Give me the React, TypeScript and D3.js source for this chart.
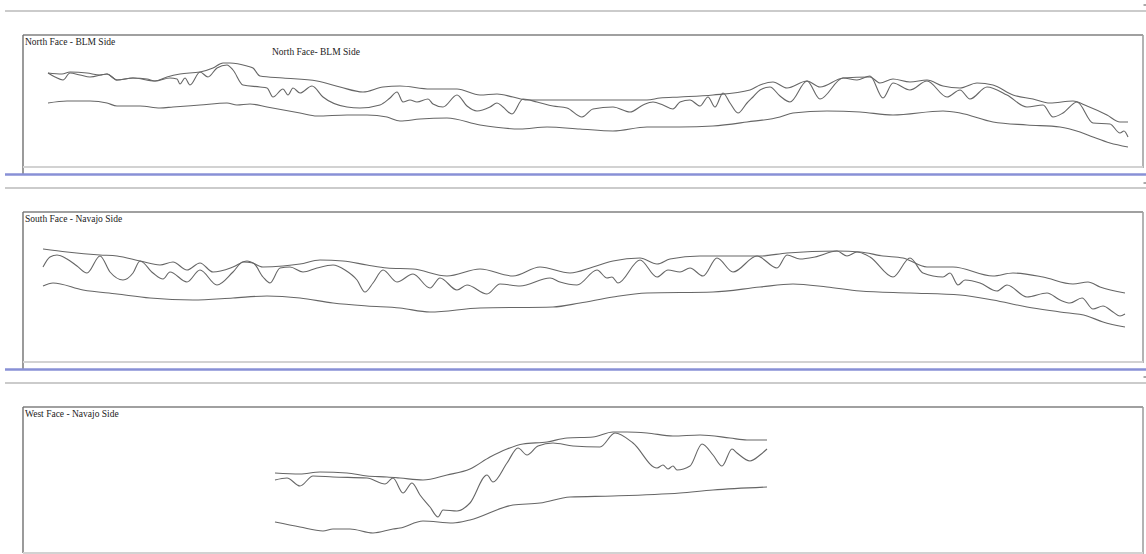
import React from "react";
import * as d3 from "d3";

type Pt = [number, number];

// Panel titles
const titles = ["North Face - BLM Side", "South Face - Navajo Side", "West Face - Navajo Side"];
const subTitle = "North Face- BLM Side";

// North Face profiles [distance, elevation]
const northTop: Pt[] = [[25,94],[39,93],[47,95],[64,94],[77,92],[84,93],[94,87],[110,89],[124,88],[132,86],[144,90],[157,93],[177,95],[190,99],[200,104],[207,104],[224,101],[230,99],[237,91],[260,89],[294,86],[317,80],[340,75],[360,80],[377,81],[407,78],[434,78],[457,72],[474,73],[490,70],[504,67],[537,67],[577,67],[624,67],[637,69],[657,70],[690,72],[727,77],[737,82],[750,85],[764,79],[784,86],[797,80],[820,89],[847,90],[857,84],[870,88],[887,85],[904,87],[920,81],[937,79],[954,84],[970,82],[990,72],[1010,68],[1027,64],[1050,66],[1064,61],[1084,52],[1097,45],[1105,45]];
const northMid: Pt[] = [[25,94],[32,90],[40,87],[47,94],[57,92],[67,90],[84,93],[94,87],[110,89],[132,86],[147,89],[154,88],[157,83],[162,89],[167,82],[177,95],[185,90],[194,99],[204,102],[210,97],[220,82],[237,80],[244,79],[250,70],[260,78],[265,72],[270,79],[277,74],[289,81],[300,70],[324,60],[337,59],[357,62],[367,69],[374,75],[380,65],[387,67],[394,65],[405,68],[410,63],[420,60],[434,72],[444,61],[454,56],[467,60],[474,64],[480,60],[489,53],[500,68],[514,65],[530,61],[544,59],[559,50],[570,58],[590,60],[607,55],[620,62],[630,65],[640,62],[650,58],[657,65],[667,67],[677,61],[685,70],[692,60],[700,74],[707,64],[715,54],[724,64],[730,70],[737,77],[747,80],[757,71],[767,65],[784,86],[797,68],[820,89],[834,87],[847,91],[860,69],[870,84],[887,77],[904,86],[924,70],[937,77],[947,68],[964,80],[984,72],[1004,60],[1020,62],[1030,50],[1040,54],[1054,65],[1070,44],[1087,43],[1097,34],[1101,36],[1105,30]];
const northBot: Pt[] = [[25,64],[44,66],[67,66],[84,64],[94,61],[117,61],[137,59],[150,60],[177,62],[204,64],[214,62],[227,63],[244,60],[277,54],[294,51],[324,52],[344,52],[364,50],[377,46],[397,48],[424,49],[457,42],[497,38],[524,40],[557,38],[590,36],[624,40],[657,40],[690,41],[724,45],[757,50],[770,54],[804,56],[837,55],[870,52],[920,56],[937,54],[970,45],[1004,42],[1037,40],[1057,35],[1070,30],[1087,24],[1105,20]];

// South Face profiles
const southTop: Pt[] = [[20,113],[44,110],[77,107],[94,106],[117,101],[137,97],[150,100],[164,92],[177,99],[190,90],[210,95],[224,101],[240,95],[260,96],[277,98],[297,102],[320,101],[344,97],[364,94],[390,93],[424,86],[457,93],[490,86],[517,95],[547,89],[570,95],[590,101],[617,104],[634,98],[647,103],[677,106],[707,106],[737,106],[764,109],[814,111],[837,110],[860,106],[880,104],[904,95],[930,95],[970,86],[990,89],[1020,85],[1050,78],[1065,80],[1077,75],[1102,69]];
const southMid: Pt[] = [[20,95],[27,105],[34,107],[44,103],[54,96],[64,89],[77,106],[87,90],[100,82],[110,89],[117,101],[130,89],[140,83],[147,90],[164,80],[177,92],[194,77],[210,90],[220,100],[230,99],[240,85],[247,79],[257,94],[267,95],[280,90],[294,94],[310,97],[322,92],[334,82],[342,70],[350,79],[360,92],[374,80],[390,88],[407,74],[417,84],[434,72],[444,77],[464,68],[477,78],[497,76],[527,84],[537,80],[554,77],[574,92],[584,84],[589,85],[595,79],[617,102],[634,85],[645,92],[657,90],[667,94],[680,86],[694,104],[710,90],[734,106],[754,94],[764,107],[777,103],[792,105],[814,111],[824,106],[834,110],[847,105],[870,85],[887,104],[900,89],[920,85],[927,89],[935,77],[942,82],[957,79],[974,71],[984,77],[1004,65],[1024,69],[1037,62],[1047,59],[1059,64],[1070,53],[1080,56],[1090,50],[1097,46],[1102,48]];
const southBot: Pt[] = [[20,76],[30,79],[60,72],[94,68],[127,64],[170,62],[210,64],[244,66],[277,64],[310,59],[344,56],[377,54],[407,50],[457,54],[530,55],[557,59],[590,65],[624,69],[690,70],[737,75],[770,78],[804,75],[837,71],[887,69],[937,67],[970,62],[1004,55],[1037,50],[1064,46],[1080,40],[1102,35]];

// West Face profiles
const westTop: Pt[] = [[252,80],[277,79],[297,81],[324,80],[344,77],[364,76],[377,75],[400,73],[424,78],[447,84],[467,96],[484,104],[500,109],[524,111],[544,115],[570,116],[590,121],[604,121],[624,120],[650,117],[677,118],[707,115],[724,113],[744,113]];
const westMid: Pt[] = [[252,73],[264,75],[277,67],[290,77],[310,76],[344,75],[362,69],[370,75],[380,60],[389,70],[397,58],[407,46],[415,36],[420,43],[434,42],[447,50],[464,78],[470,71],[484,90],[495,105],[504,98],[515,107],[530,110],[550,107],[577,106],[592,120],[610,110],[634,85],[640,88],[645,84],[650,87],[654,83],[667,87],[679,109],[690,98],[699,87],[709,104],[714,100],[727,92],[737,98],[744,104]];
const westBot: Pt[] = [[252,31],[277,26],[300,22],[310,24],[327,24],[350,20],[370,24],[377,25],[400,32],[430,30],[447,33],[490,48],[517,50],[547,56],[590,57],[657,60],[690,63],[744,66]];

const seriesByPanel: Pt[][][] = [
  [northTop, northMid, northBot],
  [southTop, southMid, southBot],
  [westTop, westMid, westBot],
];

const W = 1146;
const H = 554;

const panels = [
  { rule: 11, dash: 5, top: 35, bottom: 167, blue: 174.5 as number | null, leftEnd: 174 },
  { rule: 188, dash: 183, top: 212, bottom: 362, blue: 369.5 as number | null, leftEnd: 369 },
  { rule: 383, dash: 377, top: 407, bottom: 553, blue: null as number | null, leftEnd: 553 },
];

const BOX_L = 23;
const BOX_R = 1143;

export default function App() {
  const x = d3.scaleLinear().domain([0, 1120]).range([BOX_L, BOX_R]);
  return (
    <svg width={W} height={H} style={{ position: "absolute", left: 0, top: 0, background: "#fff" }}>
      {panels.map((p, i) => {
        const y = d3.scaleLinear().domain([0, p.bottom - p.top]).range([p.bottom, p.top]);
        const line = d3
          .line<Pt>()
          .x((d) => x(d[0]))
          .y((d) => y(d[1]))
          .curve(d3.curveMonotoneX);
        return (
          <g key={i}>
            <line x1={5} x2={W} y1={p.rule} y2={p.rule} stroke="#cbcbcb" strokeWidth={2} />
            <line x1={BOX_R + 0.5} x2={W} y1={p.dash} y2={p.dash} stroke="#555" strokeWidth={1} />
            <line x1={BOX_L} x2={BOX_R} y1={p.top} y2={p.top} stroke="#808080" strokeWidth={1.4} />
            <line x1={BOX_L} x2={BOX_L} y1={p.top} y2={p.leftEnd} stroke="#707070" strokeWidth={1.4} />
            <line x1={BOX_R} x2={BOX_R} y1={p.top} y2={p.bottom + 1} stroke="#a0a0a0" strokeWidth={1.6} />
            <line x1={BOX_L} x2={BOX_R} y1={p.bottom} y2={p.bottom} stroke="#d2d2d2" strokeWidth={2} />
            {p.blue !== null && (
              <line x1={5} x2={W} y1={p.blue} y2={p.blue} stroke="#8890d6" strokeWidth={2.5} />
            )}
            <text
              x={25}
              y={p.top + 9.5}
              fontFamily="'Liberation Serif', serif"
              fontSize={9.5}
              fill="#222"
            >
              {titles[i]}
            </text>
            {i === 0 && (
              <text x={272} y={55} fontFamily="'Liberation Serif', serif" fontSize={9.5} fill="#222">
                {subTitle}
              </text>
            )}
            {seriesByPanel[i].map((s, j) => (
              <path key={j} d={line(s) || ""} fill="none" stroke="#666" strokeWidth={1.1} />
            ))}
          </g>
        );
      })}
    </svg>
  );
}
